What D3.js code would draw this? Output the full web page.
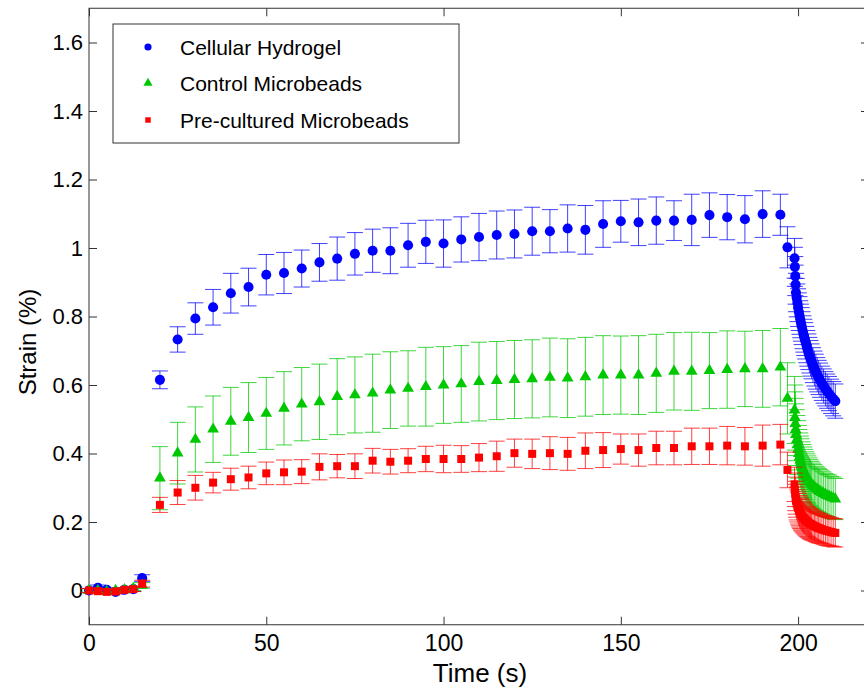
<!DOCTYPE html>
<html>
<head>
<meta charset="utf-8">
<script src="https://cdn.jsdelivr.net/npm/d3@7"></script>
<style>
  body { margin: 0; background: #fff; }
  svg text { font-family: "Liberation Sans", Arial, sans-serif; fill: #000; }
</style>
</head>
<body>
<svg id="chart"></svg>
<script>
// time points (s): early baseline, creep phase, relaxation phase
const timeEarly = [0, 2.5, 5, 7.5, 10, 12.5, 15]
const timeCreep = [20, 25, 30, 35, 40, 45, 50, 55, 60, 65, 70, 75, 80, 85, 90, 95, 100, 105, 110, 115,
                   120, 125, 130, 135, 140, 145, 150, 155, 160, 165, 170, 175, 180, 185, 190, 195]
const timeRelax = [197, 199, 199.1, 199.2, 199.3, 199.4, 199.6, 199.8, 200, 200.2, 200.4, 200.6, 200.8, 201, 201.25,
                   201.5, 201.75, 202, 202.3, 202.6, 202.9, 203.2, 203.5, 203.8, 204.2, 204.6, 205, 205.4, 205.8,
                   206.2, 206.7, 207.2, 207.7, 208.2, 208.7, 209.3, 209.9, 210.5]
const time = timeEarly.concat(timeCreep, timeRelax)

// Cellular Hydrogel
const hydrogelMean = [0, 0.008, 0.002, -0.004, 0.002, 0.004, 0.036,
  0.615, 0.733, 0.794, 0.827, 0.868, 0.886, 0.922, 0.927, 0.940, 0.958, 0.969, 0.983, 0.992, 0.992, 1.008, 1.018,
  1.013, 1.025, 1.032, 1.038, 1.041, 1.049, 1.049, 1.057, 1.053, 1.070, 1.078, 1.075, 1.080, 1.080, 1.082, 1.096,
  1.090, 1.084, 1.099, 1.097,
  1.002, 0.970, 0.945, 0.918, 0.893, 0.870, 0.855, 0.840, 0.826, 0.814, 0.803, 0.792, 0.782, 0.772, 0.760, 0.749,
  0.739, 0.729, 0.718, 0.707, 0.697, 0.687, 0.678, 0.669, 0.658, 0.648, 0.639, 0.630, 0.622, 0.614, 0.605, 0.597,
  0.589, 0.582, 0.575, 0.567, 0.560, 0.553]
const hydrogelErr = [0.006, 0.008, 0.006, 0.006, 0.006, 0.007, 0.01,
  0.026, 0.037, 0.046, 0.052, 0.058, 0.055, 0.059, 0.060, 0.054, 0.055, 0.063, 0.062, 0.063, 0.067, 0.064, 0.063,
  0.069, 0.066, 0.069, 0.070, 0.070, 0.070, 0.063, 0.069, 0.071, 0.068, 0.061, 0.068, 0.069, 0.058, 0.075, 0.065,
  0.066, 0.069, 0.068, 0.060,
  0.060, 0.058, 0.057, 0.057, 0.057, 0.056, 0.056, 0.055, 0.055, 0.055, 0.055, 0.054, 0.054, 0.054, 0.054, 0.053,
  0.053, 0.053, 0.053, 0.052, 0.052, 0.052, 0.052, 0.051, 0.051, 0.051, 0.051, 0.050, 0.050, 0.050, 0.050, 0.050,
  0.050, 0.050, 0.050, 0.050, 0.050, 0.050]

// Control Microbeads
const controlMean = [0, 0.0, -0.003, 0.0, 0.002, 0.006, 0.015,
  0.328, 0.401, 0.441, 0.471, 0.494, 0.505, 0.517, 0.532, 0.544, 0.551, 0.566, 0.571, 0.576, 0.585, 0.590, 0.595,
  0.600, 0.603, 0.610, 0.613, 0.616, 0.618, 0.622, 0.620, 0.624, 0.629, 0.629, 0.629, 0.634, 0.640, 0.640, 0.642,
  0.645, 0.647, 0.647, 0.652,
  0.561, 0.527, 0.505, 0.487, 0.470, 0.455, 0.440, 0.425, 0.412, 0.400, 0.390, 0.381, 0.373, 0.366, 0.358, 0.351,
  0.345, 0.339, 0.333, 0.328, 0.323, 0.318, 0.314, 0.310, 0.306, 0.302, 0.298, 0.295, 0.292, 0.289, 0.286, 0.283,
  0.280, 0.277, 0.275, 0.272, 0.270, 0.267]
const controlErr = [0.005, 0.006, 0.005, 0.005, 0.005, 0.006, 0.008,
  0.092, 0.090, 0.095, 0.097, 0.099, 0.102, 0.105, 0.107, 0.107, 0.110, 0.111, 0.111, 0.114, 0.112, 0.110, 0.115,
  0.112, 0.112, 0.115, 0.114, 0.114, 0.114, 0.115, 0.115, 0.115, 0.115, 0.114, 0.115, 0.114, 0.113, 0.114, 0.111,
  0.113, 0.110, 0.112, 0.113,
  0.104, 0.098, 0.095, 0.093, 0.091, 0.090, 0.088, 0.086, 0.084, 0.082, 0.080, 0.079, 0.078, 0.077, 0.076, 0.075,
  0.074, 0.073, 0.072, 0.071, 0.070, 0.069, 0.068, 0.067, 0.066, 0.066, 0.065, 0.065, 0.064, 0.064, 0.063, 0.063,
  0.062, 0.062, 0.062, 0.061, 0.061, 0.060]

// Pre-cultured Microbeads
const precultMean = [0, -0.002, -0.004, -0.003, 0.002, 0.004, 0.020,
  0.250, 0.286, 0.300, 0.315, 0.325, 0.330, 0.342, 0.345, 0.347, 0.361, 0.363, 0.363, 0.379, 0.376, 0.379, 0.384,
  0.384, 0.384, 0.388, 0.392, 0.401, 0.399, 0.401, 0.399, 0.408, 0.410, 0.413, 0.410, 0.416, 0.416, 0.421, 0.421,
  0.423, 0.421, 0.423, 0.426,
  0.352, 0.310, 0.294, 0.282, 0.271, 0.262, 0.254, 0.247, 0.241, 0.236, 0.231, 0.227, 0.223, 0.220, 0.216, 0.213,
  0.210, 0.207, 0.204, 0.201, 0.199, 0.196, 0.194, 0.192, 0.190, 0.188, 0.186, 0.184, 0.182, 0.181, 0.179, 0.177,
  0.175, 0.174, 0.172, 0.171, 0.169, 0.168]
const precultErr = [0.006, 0.007, 0.006, 0.006, 0.006, 0.007, 0.010,
  0.022, 0.035, 0.036, 0.030, 0.032, 0.033, 0.033, 0.036, 0.035, 0.038, 0.034, 0.036, 0.036, 0.036, 0.035, 0.037,
  0.040, 0.039, 0.041, 0.044, 0.041, 0.043, 0.048, 0.048, 0.052, 0.051, 0.044, 0.047, 0.049, 0.049, 0.053, 0.053,
  0.056, 0.055, 0.060, 0.059,
  0.052, 0.050, 0.049, 0.049, 0.048, 0.048, 0.048, 0.047, 0.047, 0.047, 0.046, 0.046, 0.046, 0.046, 0.045, 0.045,
  0.045, 0.045, 0.045, 0.044, 0.044, 0.044, 0.044, 0.044, 0.043, 0.043, 0.043, 0.043, 0.043, 0.042, 0.042, 0.042,
  0.042, 0.042, 0.042, 0.041, 0.041, 0.041]

const seriesNames = ["Cellular Hydrogel", "Control Microbeads", "Pre-cultured Microbeads"]
const seriesColors = ["#0000ff", "#00c800", "#ff0000"]
const seriesSymbols = [d3.symbolCircle, d3.symbolTriangle, d3.symbolSquare]
const xTicks = [0, 50, 100, 150, 200]
const yTicks = [0, 0.2, 0.4, 0.6, 0.8, 1, 1.2, 1.4, 1.6]

const width = 864, height = 690
const svg = d3.select("#chart").attr("width", width).attr("height", height)

const x = d3.scaleLinear().domain([0, 220]).range([89, 869])
const y = d3.scaleLinear().domain([-0.1, 1.7]).range([624.75, 8.25])

// axes box
const box = svg.append("g").attr("stroke", "#333").attr("stroke-width", 1).attr("fill", "none")
box.append("rect")
  .attr("x", x.range()[0]).attr("y", y.range()[1])
  .attr("width", x.range()[1] - x.range()[0])
  .attr("height", y.range()[0] - y.range()[1])

const xAxis = svg.append("g").attr("transform", "translate(0," + y.range()[0] + ")")
  .call(d3.axisBottom(x).tickValues(xTicks).tickSizeInner(-8).tickSizeOuter(0).tickPadding(10))
const xAxisTop = svg.append("g").attr("transform", "translate(0," + y.range()[1] + ")")
  .call(d3.axisTop(x).tickValues(xTicks).tickSizeInner(-8).tickSizeOuter(0).tickFormat(""))
const yAxis = svg.append("g").attr("transform", "translate(" + x.range()[0] + ",0)")
  .call(d3.axisLeft(y).tickValues(yTicks).tickSizeInner(-8).tickSizeOuter(0).tickPadding(6)
    .tickFormat(d => d3.format("~g")(d)))
const yAxisRight = svg.append("g").attr("transform", "translate(" + x.range()[1] + ",0)")
  .call(d3.axisRight(y).tickValues(yTicks).tickSizeInner(-8).tickSizeOuter(0).tickFormat(""))

svg.selectAll(".domain").remove()
svg.selectAll(".tick line").attr("stroke", "#333")
xAxis.selectAll("text").attr("font-size", 23).attr("font-family", "Liberation Sans, Arial, sans-serif")
yAxis.selectAll("text").attr("font-size", 22).attr("font-family", "Liberation Sans, Arial, sans-serif")

svg.append("text")
  .attr("x", 480).attr("y", 682)
  .attr("text-anchor", "middle").attr("font-size", 26)
  .text("Time (s)")

svg.append("text")
  .attr("transform", "translate(36,342) rotate(-90)")
  .attr("text-anchor", "middle").attr("font-size", 24)
  .text("Strain (%)")

// series
const allSeries = [
  { mean: hydrogelMean, err: hydrogelErr },
  { mean: controlMean, err: controlErr },
  { mean: precultMean, err: precultErr }
].map((s, i) => ({
  name: seriesNames[i], color: seriesColors[i], symbol: seriesSymbols[i],
  points: time.map((t, j) => ({ t: t, m: s.mean[j], e: s.err[j] }))
}))

const capW = 8
const markerSize = [80, 60, 64]

allSeries.forEach((s, i) => {
  const g = svg.append("g")
  const bars = g.selectAll(".bar").data(s.points).enter().append("g")
    .attr("stroke", s.color).attr("stroke-width", 1).attr("stroke-opacity", 0.75)
  bars.append("line")
    .attr("x1", d => x(d.t)).attr("x2", d => x(d.t))
    .attr("y1", d => y(d.m - d.e)).attr("y2", d => y(d.m + d.e))
  bars.append("line")
    .attr("x1", d => x(d.t) - capW).attr("x2", d => x(d.t) + capW)
    .attr("y1", d => y(d.m + d.e)).attr("y2", d => y(d.m + d.e))
  bars.append("line")
    .attr("x1", d => x(d.t) - capW).attr("x2", d => x(d.t) + capW)
    .attr("y1", d => y(d.m - d.e)).attr("y2", d => y(d.m - d.e))

  g.selectAll(".mark").data(s.points).enter().append("path")
    .attr("d", d3.symbol().type(s.symbol).size(markerSize[i]))
    .attr("transform", d => "translate(" + x(d.t) + "," + y(d.m) + ")")
    .attr("fill", s.color)
})

// legend
const legend = svg.append("g")
legend.append("rect")
  .attr("x", 113).attr("y", 24).attr("width", 346).attr("height", 119)
  .attr("fill", "#fff").attr("stroke", "#333").attr("stroke-width", 1)
const legendRows = [47, 83, 120]
const legendSize = [40, 36, 30]
allSeries.forEach((s, i) => {
  legend.append("path")
    .attr("d", d3.symbol().type(s.symbol).size(legendSize[i]))
    .attr("transform", "translate(148," + legendRows[i] + ")")
    .attr("fill", s.color)
  legend.append("text")
    .attr("x", 180).attr("y", legendRows[i]).attr("dy", "0.36em")
    .attr("font-size", 21)
    .text(s.name)
})
</script>
</body>
</html>
